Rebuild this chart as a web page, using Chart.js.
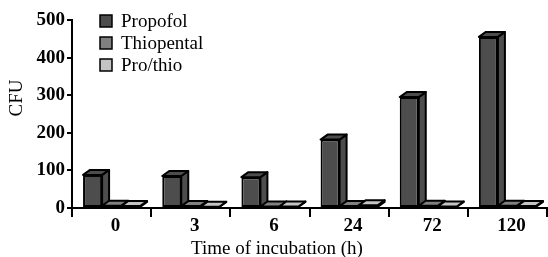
<!DOCTYPE html>
<html>
<head>
<meta charset="utf-8">
<script src="https://cdn.jsdelivr.net/npm/chart.js@4/dist/chart.umd.min.js"></script>
<style>
  body { margin: 0; background: #fff; }
  canvas { display: block; }
</style>
</head>
<body>
<canvas id="cfuChart" width="548" height="257"></canvas>
<script>
// data
const hours = ['0', '3', '6', '24', '72', '120']
const propofol = [88, 85, 82, 182, 295, 455]
const thiopental = [6, 5, 4, 5, 6, 6]
const proThio = [5, 3, 4, 7, 4, 5]
const yTicks = [0, 100, 200, 300, 400, 500]

const serif = 'Liberation Serif'
const xTitle = 'Time of incubation (h)'
const yTitle = 'CFU'

// fake 3D: top and side faces drawn behind the flat fronts
const depth = { x: 7, y: 5 }
const bar3d = {
    id: 'bar3d',
    beforeDatasetsDraw (chart) {
        const ctx = chart.ctx
        ctx.save()
        ctx.lineWidth = 2
        ctx.strokeStyle = '#000'
        ctx.lineJoin = 'round'
        chart.data.datasets.forEach((ds, i) => {
            chart.getDatasetMeta(i).data.forEach((bar) => {
                const l = bar.x - bar.width / 2
                const r = bar.x + bar.width / 2
                const t = bar.y
                const b = bar.base
                ctx.fillStyle = ds.backgroundColor
                // side
                ctx.beginPath()
                ctx.moveTo(r, b)
                ctx.lineTo(r + depth.x, b - depth.y)
                ctx.lineTo(r + depth.x, t - depth.y)
                ctx.lineTo(r, t)
                ctx.closePath()
                ctx.fill()
                ctx.stroke()
                // top
                ctx.beginPath()
                ctx.moveTo(l, t)
                ctx.lineTo(l + depth.x, t - depth.y)
                ctx.lineTo(r + depth.x, t - depth.y)
                ctx.lineTo(r, t)
                ctx.closePath()
                ctx.fill()
                ctx.stroke()
            })
        })
        ctx.restore()
    }
}

// legend stacked in the upper left corner + the two axis titles
// (the titles sit off-centre in the original, so they are drawn here)
const labels = {
    id: 'labels',
    afterDraw (chart) {
        const ctx = chart.ctx
        ctx.save()
        ctx.font = '19px "' + serif + '"'
        ctx.textBaseline = 'middle'
        chart.data.datasets.forEach((ds, i) => {
            const y = 21 + i * 22
            ctx.fillStyle = ds.backgroundColor
            ctx.fillRect(100, y - 6, 12, 12)
            ctx.lineWidth = 1.5
            ctx.strokeStyle = '#000'
            ctx.strokeRect(100, y - 6, 12, 12)
            ctx.fillStyle = '#000'
            ctx.fillText(ds.label, 121, y + 1)
        })

        ctx.textAlign = 'center'
        ctx.textBaseline = 'alphabetic'
        ctx.fillText(xTitle, 277, 254)

        ctx.translate(22, 98)
        ctx.rotate(-Math.PI / 2)
        ctx.fillText(yTitle, 0, 0)
        ctx.restore()
    }
}

const barStyle = { borderColor: '#000', borderWidth: 2, borderSkipped: false }

new Chart(document.getElementById('cfuChart'), {
    type: 'bar',
    data: {
        labels: hours,
        datasets: [
            { label: 'Propofol', data: propofol, backgroundColor: '#4d4d4d', ...barStyle },
            { label: 'Thiopental', data: thiopental, backgroundColor: '#808080', ...barStyle },
            { label: 'Pro/thio', data: proThio, backgroundColor: '#c4c4c4', ...barStyle }
        ]
    },
    options: {
        responsive: false,
        animation: false,
        layout: { padding: { top: 20, right: 1, left: 0, bottom: 0 } },
        datasets: { bar: { barPercentage: 1, categoryPercentage: 0.72 } },
        plugins: {
            legend: { display: false },
            tooltip: { enabled: false }
        },
        scales: {
            x: {
                afterFit: (scale) => { scale.height = 49 },
                grid: { offset: true, drawOnChartArea: false, color: '#000', lineWidth: 2, tickLength: 9 },
                border: { color: '#000', width: 2 },
                ticks: { color: '#000', padding: -2, labelOffset: 4, font: { family: serif, size: 19, weight: 'bold' } }
            },
            y: {
                min: 0,
                max: 500,
                afterFit: (scale) => { scale.width = 72 },
                afterBuildTicks: (scale) => { scale.ticks = yTicks.map((v) => ({ value: v })) },
                grid: { drawOnChartArea: false, color: '#000', lineWidth: 2, tickLength: 5 },
                border: { color: '#000', width: 2 },
                ticks: { color: '#000', padding: 2, font: { family: serif, size: 19, weight: 'bold' } }
            }
        }
    },
    plugins: [bar3d, labels]
})
</script>
</body>
</html>
